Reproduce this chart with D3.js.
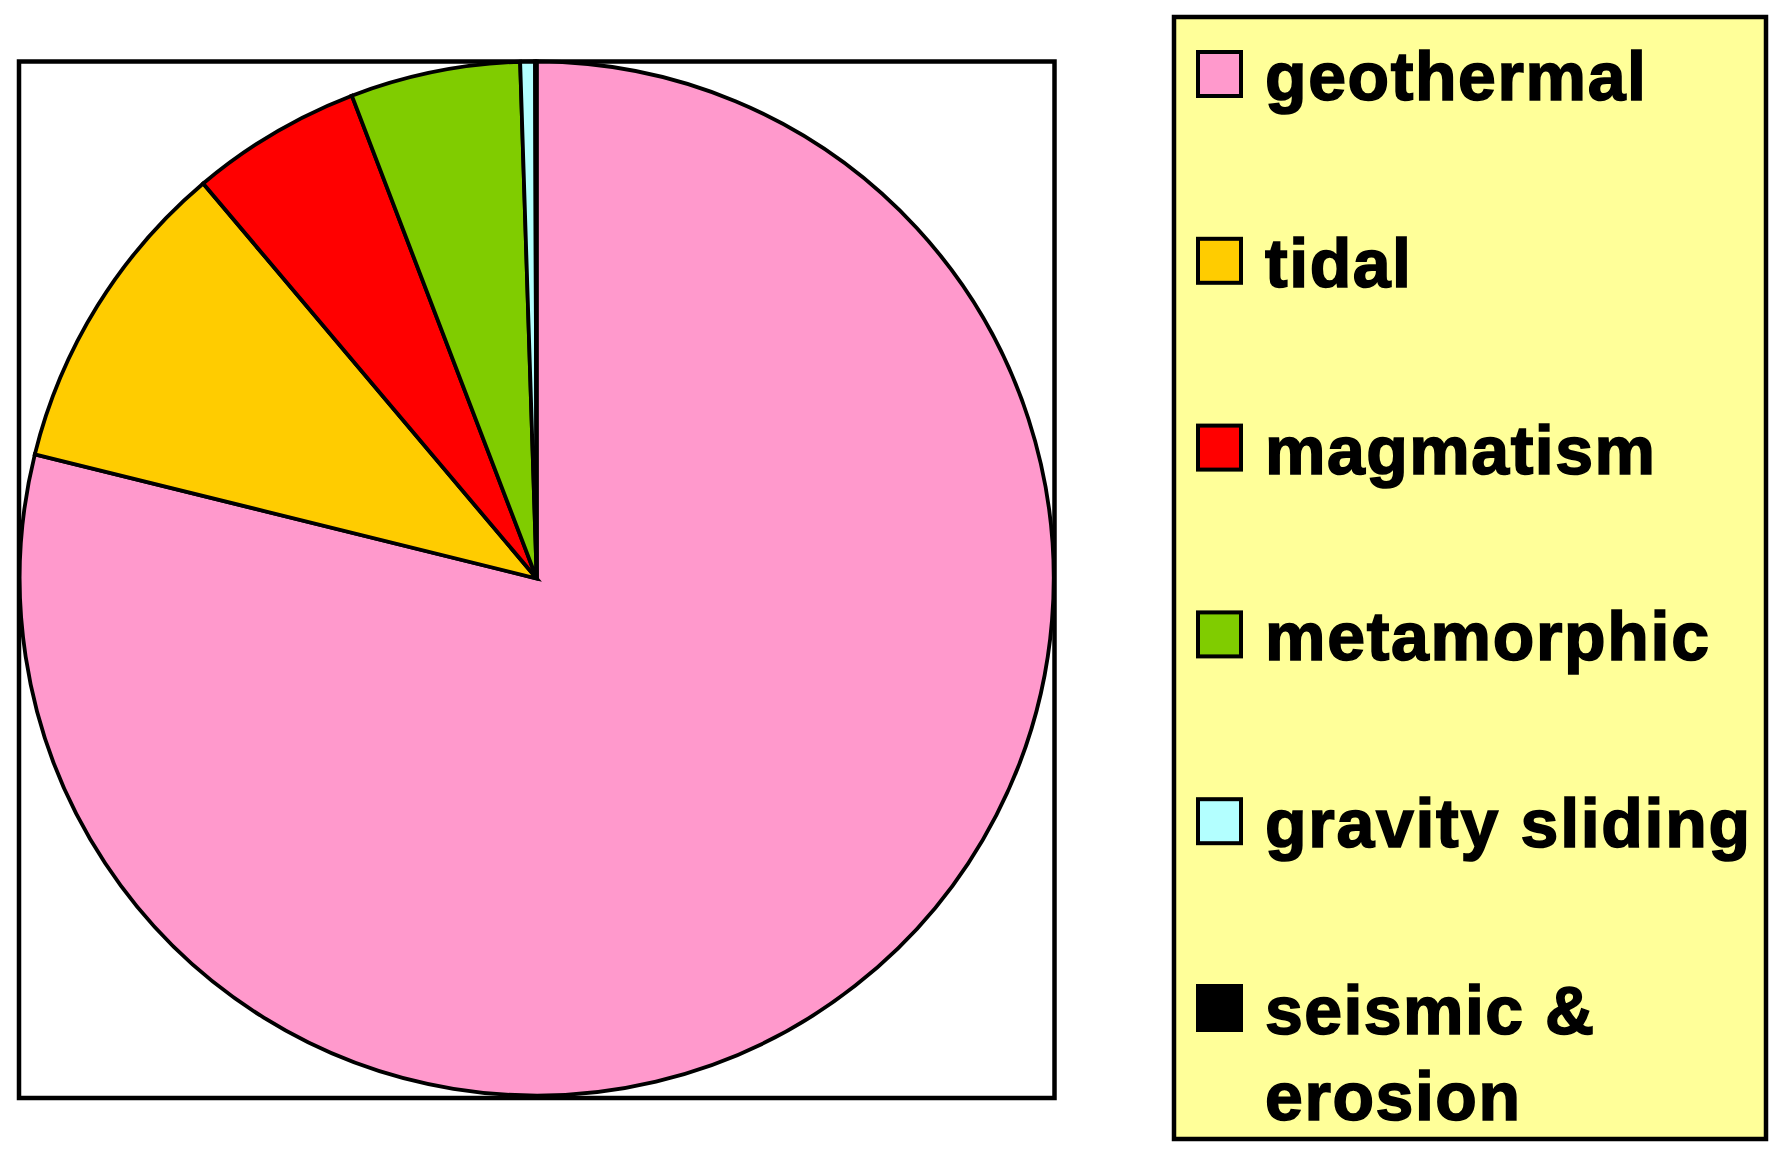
<!DOCTYPE html>
<html>
<head>
<meta charset="utf-8">
<script src="https://cdn.jsdelivr.net/npm/d3@7"></script>
<style>
  html, body { margin: 0; padding: 0; background: #ffffff; }
  svg { display: block; }
</style>
</head>
<body>
<svg id="chart" width="1785" height="1157"></svg>
<script>
// ---- data ----
const categories = ["geothermal", "tidal", "magmatism", "metamorphic", "gravity sliding", "seismic & erosion"];
const values = [78.86, 9.98, 5.34, 5.31, 0.46, 0.05];
const colors = ["#FF99CC", "#FFCC00", "#FF0000", "#80CC00", "#B3FFFF", "#000000"];
const legendLines = [["geothermal"], ["tidal"], ["magmatism"], ["metamorphic"], ["gravity sliding"], ["seismic &", "erosion"]];
const legendWidths = [381, 146, 390, 444, 485, 329, 255];

// ---- layout ----
const svg = d3.select("#chart");
const cx = 536.7, cy = 578.5, R = 517;

// plot frame
svg.append("rect")
  .attr("x", 19).attr("y", 61.5)
  .attr("width", 1035.5).attr("height", 1036.5)
  .attr("fill", "#ffffff").attr("stroke", "#000").attr("stroke-width", 4.5);

const pie = d3.pie().sort(null).value(d => d)
  .startAngle(0).endAngle(2 * Math.PI);
const arc = d3.arc().innerRadius(0).outerRadius(R);
const color = d3.scaleOrdinal().domain(categories).range(colors);

const arcs = pie(values);
svg.append("g")
  .attr("transform", `translate(${cx},${cy})`)
  .selectAll("path")
  .data(arcs)
  .join("path")
  .attr("d", arc)
  .attr("fill", (d, i) => color(categories[i]))
  .attr("stroke", "#000")
  .attr("stroke-width", 3.8)
  .attr("stroke-linejoin", "miter");

// legend
const lg = svg.append("g");
lg.append("rect")
  .attr("x", 1174).attr("y", 17)
  .attr("width", 592).attr("height", 1122)
  .attr("fill", "#FFFF99").attr("stroke", "#000").attr("stroke-width", 4.5);

const rowY = d3.scaleLinear().domain([0, categories.length - 1]).range([100, 1034]);
let wIdx = 0;
categories.forEach((c, i) => {
  const base = rowY(i);
  lg.append("rect")
    .attr("x", 1198).attr("y", base - 48)
    .attr("width", 43).attr("height", 44)
    .attr("fill", color(c)).attr("stroke", "#000").attr("stroke-width", 4);
  legendLines[i].forEach((line, j) => {
    lg.append("text")
      .attr("x", 1265).attr("y", base + j * 86)
      .attr("font-family", "'Liberation Sans', Arial, sans-serif")
      .attr("font-weight", "bold")
      .attr("font-size", 68)
      .attr("stroke", "#000")
      .attr("stroke-width", 1.6)
      .attr("textLength", legendWidths[wIdx++])
      .attr("lengthAdjust", "spacing")
      .attr("fill", "#000")
      .text(line);
  });
});
</script>
</body>
</html>
